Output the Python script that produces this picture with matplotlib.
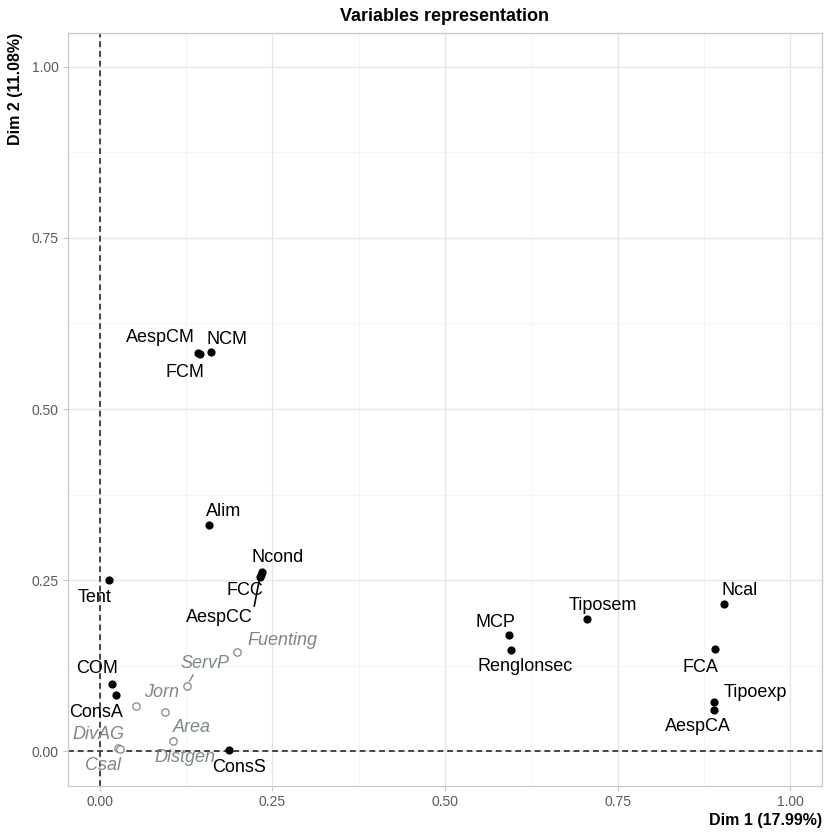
import matplotlib
matplotlib.use("Agg")
from matplotlib import pyplot as plt
from matplotlib.ticker import MultipleLocator

plt.rcParams['font.family'] = ['Liberation Sans', 'DejaVu Sans']

# active variables (coordinates on Dim 1 / Dim 2)
active_names = ["Tent", "Ncond", "FCC", "AespCC", "Alim", "NCM", "FCM", "AespCM",
                "COM", "ConsA", "ConsS", "MCP", "Renglonsec", "Tiposem", "Ncal",
                "FCA", "Tipoexp", "AespCA"]
active_dim1 = [0.013, 0.235, 0.233, 0.232, 0.158, 0.162, 0.145, 0.142,
               0.018, 0.024, 0.187, 0.593, 0.595, 0.706, 0.904,
               0.891, 0.889, 0.889]
active_dim2 = [0.251, 0.262, 0.257, 0.254, 0.330, 0.583, 0.580, 0.582,
               0.099, 0.082, 0.002, 0.170, 0.148, 0.193, 0.216,
               0.149, 0.072, 0.060]

# supplementary variables
sup_names = ["Fuenting", "ServP", "Jorn", "Area", "Distgen", "DivAG", "Csal"]
sup_dim1 = [0.199, 0.126, 0.052, 0.094, 0.106, 0.026, 0.029]
sup_dim2 = [0.145, 0.095, 0.067, 0.058, 0.015, 0.005, 0.004]

# label offsets in pixels (repel-like placement)
active_offsets = {
    "Tent": (-14, -18), "Ncond": (16, 15), "FCC": (-16, -15), "AespCC": (-40, -40),
    "Alim": (15, 14), "NCM": (16, 13), "FCM": (-15, -18), "AespCM": (-37, 15),
    "COM": (-15, 15), "ConsA": (-20, -17), "ConsS": (10, -17), "MCP": (-14, 13),
    "Renglonsec": (15, -16), "Tiposem": (16, 14), "Ncal": (16, 13),
    "FCA": (-15, -18), "Tipoexp": (42, 10), "AespCA": (-16, -16),
}
sup_offsets = {
    "Fuenting": (45, 12), "ServP": (18, 23), "Jorn": (26, 13), "Area": (27, -16),
    "Distgen": (12, -16), "DivAG": (-19, 13), "Csal": (-17, -17),
}
# segment attachment point on the label box
segment_rel = {"AespCC": (1.0, 0.85), "ServP": (0.3, 0.0)}

sup_col = "#7d8884"

fig = plt.figure(figsize=(8.27, 8.34), dpi=100)
ax = fig.add_axes([0.082, 0.058, 0.912, 0.903])

ax.set_xlim(-0.046, 1.046)
ax.set_ylim(-0.05, 1.05)
ax.xaxis.set_major_locator(MultipleLocator(0.25))
ax.yaxis.set_major_locator(MultipleLocator(0.25))
ax.xaxis.set_minor_locator(MultipleLocator(0.125))
ax.yaxis.set_minor_locator(MultipleLocator(0.125))
ax.xaxis.set_major_formatter(lambda v, p: f"{v:.2f}")
ax.yaxis.set_major_formatter(lambda v, p: f"{v:.2f}")

ax.grid(which='major', color='#e6e6e6', lw=0.9, zorder=0)
ax.grid(which='minor', color='#f2f2f2', lw=0.6, zorder=0)
ax.set_axisbelow(True)
for s in ax.spines.values():
    s.set_color('#c8c8c8')
    s.set_linewidth(0.9)
ax.tick_params(which='major', length=3.5, color='#c8c8c8', labelsize=10,
               labelcolor='#5a5a5a', pad=3)
ax.tick_params(which='minor', length=0)

ax.axhline(0, color='#454545', lw=1.4, ls=(0, (3, 2)), zorder=1)
ax.axvline(0, color='#454545', lw=1.4, ls=(0, (3, 2)), zorder=1)

ax.scatter(active_dim1, active_dim2, s=24, color='black', zorder=3)
ax.scatter(sup_dim1, sup_dim2, s=28, facecolors='white', edgecolors=sup_col,
           linewidths=0.9, zorder=3)

for name, x, y in zip(active_names, active_dim1, active_dim2):
    dx, dy = active_offsets[name]
    arrow = None
    if name in segment_rel:
        arrow = dict(arrowstyle='-', color='black', lw=1.2, shrinkA=0, shrinkB=3,
                     relpos=segment_rel[name])
    ax.annotate(name, (x, y), xytext=(dx, dy), textcoords='offset pixels',
                ha='center', va='center', fontsize=13, color='black',
                arrowprops=arrow, zorder=4)

for name, x, y in zip(sup_names, sup_dim1, sup_dim2):
    dx, dy = sup_offsets[name]
    arrow = None
    if name in segment_rel:
        arrow = dict(arrowstyle='-', color=sup_col, lw=1.0, shrinkA=0, shrinkB=4,
                     relpos=segment_rel[name])
    ax.annotate(name, (x, y), xytext=(dx, dy), textcoords='offset pixels',
                ha='center', va='center', fontsize=13, color=sup_col,
                style='italic', arrowprops=arrow, zorder=4)

ax.set_title("Variables representation", fontsize=13, fontweight='bold', pad=8)
ax.set_xlabel("Dim 1 (17.99%)", fontsize=11.5, fontweight='bold', loc='right',
              labelpad=3)
ax.set_ylabel("Dim 2 (11.08%)", fontsize=11.5, fontweight='bold', loc='top',
              labelpad=6)

fig.savefig("out.png", dpi=100)
